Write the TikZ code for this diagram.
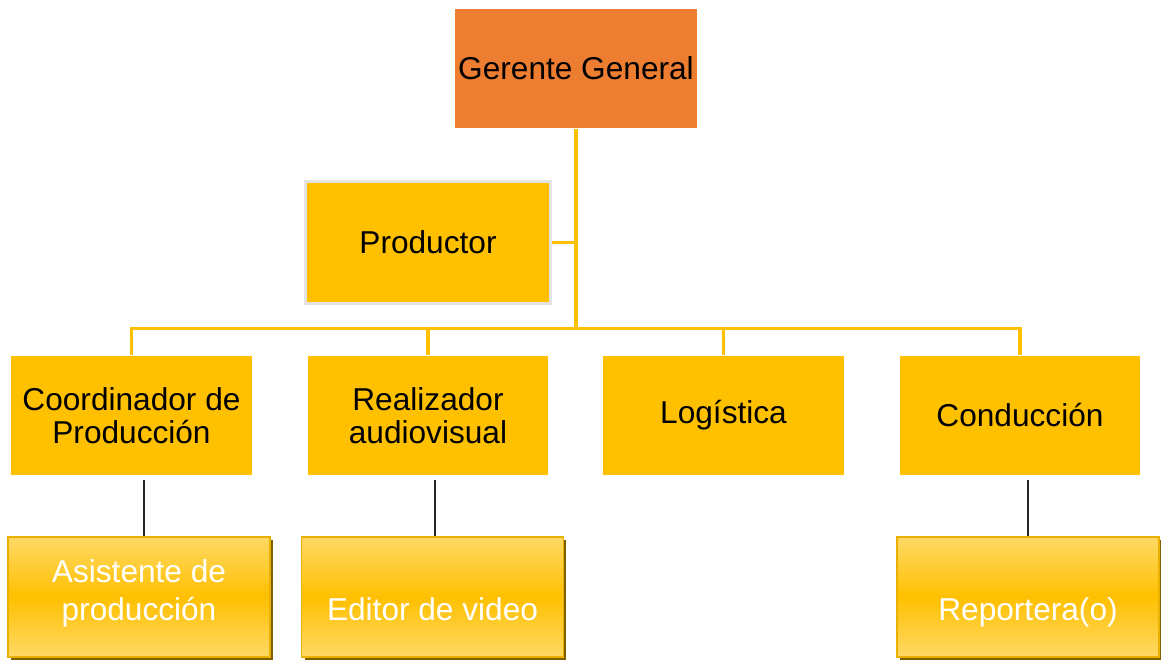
\documentclass[tikz,border=0pt]{standalone}
\usepackage{fontspec}
\setmainfont{Liberation Sans}
\usetikzlibrary{calc,shadows}

\definecolor{naranja}{HTML}{ED7D31}
\definecolor{oro}{HTML}{FFC000}
\definecolor{oroclaro}{HTML}{FFD966}
\definecolor{sombra}{HTML}{7F6000}
\definecolor{gris}{HTML}{E3E3E3}

\tikzset{
  caja/.style={rectangle, minimum width=4.82cm, minimum height=2.4cm, inner sep=2pt,
    align=center, font=\fontsize{18}{19}\selectfont},
  jefe/.style={caja, fill=naranja},
  area/.style={caja, fill=oro},
  asesor/.style={caja, fill=oro, draw=gris, line width=1.6pt,
    minimum width=4.9cm, minimum height=2.44cm},
  hoja/.style={rectangle, minimum width=5.24cm, minimum height=2.4cm,
    top color=oroclaro, bottom color=oroclaro, middle color=oro,
    draw=oro!92!black, line width=1pt,
    drop shadow={shadow xshift=0.06cm, shadow yshift=-0.06cm, fill=sombra, opacity=1}},
  hojatxt/.style={anchor=south, inner sep=0pt, align=center, text=white,
    font=\fontsize{18}{21.5}\selectfont, execute at end node=\strut},
  rama/.style={draw=oro, line width=1.8pt},
  enlace/.style={draw=black!85, line width=1.1pt, shorten >=0.08cm}
}

\begin{document}
\begin{tikzpicture}[x=0.02cm,y=-0.02cm]
  \useasboundingbox (0,0) rectangle (1161,661);
  % cabeza y asesor
  \node[jefe] (G) at (576,68.5) {Gerente General};
  \node[asesor] (P) at (428,242.5) {Productor};
  % segundo nivel
  \node[area] (C1) at (131.5,415.5) {Coordinador de\\Producci\'on};
  \node[area] (C2) at (428,415.5) {Realizador\\audiovisual};
  \node[area] (C3) at (723.5,415.5) {Log\'istica};
  \node[area] (C4) at (1020,415.5) {Conducci\'on};
  \coordinate (BUS) at (576,328.5);
  \draw[rama] (G.south) -- (BUS);
  \draw[rama] (P.east) -- (P.east -| BUS);
  \foreach \n in {C1,C2,C3,C4}
    \draw[rama] (BUS) -| (\n.north);
  % tercer nivel
  \node[hoja] (H1) at (139,597) {};
  \node[hoja] (H2) at (432.5,597) {};
  \node[hoja] (H4) at (1028,597) {};
  \node[hojatxt] (H1t) at ([yshift=0.52cm]H1.south) {Asistente de\\producci\'on};
  \node[hojatxt] (H2t) at ([yshift=0.52cm]H2.south) {Editor de video};
  \node[hojatxt] (H4t) at ([yshift=0.52cm]H4.south) {Reportera(o)};
  \draw[enlace] ([xshift=0.1cm]H1.north) -- ([xshift=0.1cm]H1.north |- C1.south);
  \draw[enlace] ([xshift=0.05cm]H2.north) -- ([xshift=0.05cm]H2.north |- C2.south);
  \draw[enlace] (H4.north) -- (H4.north |- C4.south);
\end{tikzpicture}
\end{document}
